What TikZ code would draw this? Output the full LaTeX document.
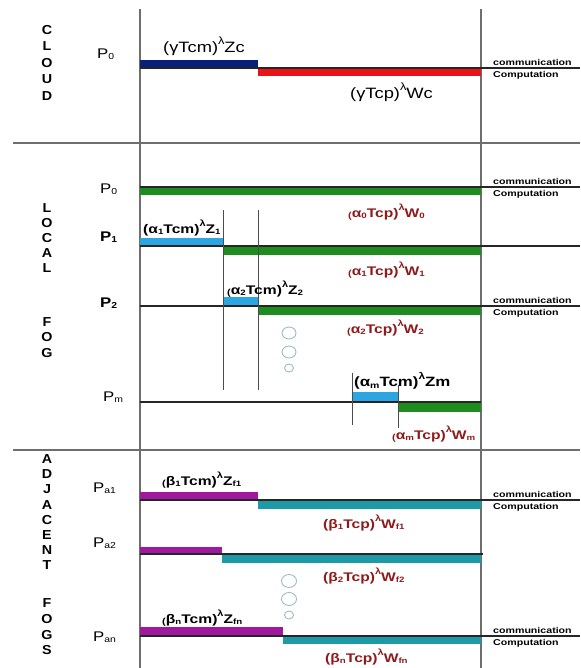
\documentclass[tikz,border=0pt]{standalone}
\usepackage{fontspec}
\setmainfont{Liberation Sans}
\definecolor{cmblue}{HTML}{0A1F7A}
\definecolor{cpred}{HTML}{E8141A}
\definecolor{fgreen}{HTML}{1E8C1E}
\definecolor{fcyan}{HTML}{2BA6E0}
\definecolor{amag}{HTML}{A0189E}
\definecolor{ateal}{HTML}{1D9AA6}
\definecolor{lblred}{HTML}{8E1B1B}
\definecolor{dotc}{HTML}{9BBDBD}
\definecolor{rulegray}{HTML}{6E6E6E}
% horizontally widened text, small sub/superscripts
\newcommand\wide[2][1.25]{\scalebox{#1}[1]{#2}}
\newcommand\subx[1]{\raisebox{-0.1em}{\scalebox{0.62}{#1}}}
\newcommand\supx[1]{\raisebox{0.55em}{\scalebox{0.7}{#1}}}
\newcommand\sparen{\raisebox{-0.1em}{\scalebox{0.7}{(}}}
\tikzset{
  frame/.style={draw=rulegray, line width=1.2pt},
  baseln/.style={draw=black!85, line width=1.1pt},
  tick/.style={draw=black!70, line width=1pt},
  dotring/.style={draw=dotc, line width=0.9pt},
  sec/.style={inner sep=0pt, font=\bfseries\fontsize{13}{13}\selectfont},
  plab/.style={inner sep=0pt, anchor=west, font=\fontsize{14}{14}\selectfont},
  glab/.style={inner sep=0pt, anchor=west, font=\fontsize{15}{15}\selectfont},
  cmlab/.style={inner sep=0pt, anchor=west, font=\bfseries\fontsize{12.5}{13}\selectfont},
  cplab/.style={inner sep=0pt, anchor=west, text=lblred, font=\bfseries\fontsize{12.5}{13}\selectfont},
  tag/.style={inner sep=0pt, anchor=west, font=\bfseries\fontsize{8.5}{9}\selectfont},
}
\begin{document}
\begin{tikzpicture}[x=1pt,y=-1pt]
\useasboundingbox (0,0) rectangle (580,668);

% ---------- frame ----------
\draw[frame] (140,9) -- (140,668);
\draw[frame] (481,9) -- (481,668);
\draw[frame] (13,143) -- (580,143);
\draw[frame] (13,450) -- (580,450);

% ---------- section titles ----------
\foreach \ch [count=\i] in {C,L,O,U,D}
  \node[sec] (cloud\i) at (47,{30+16.5*(\i-1)}) {\wide[1.1]{\ch}};
\foreach \ch [count=\i] in {L,O,C,A,L}
  \node[sec] (local\i) at (47,{208+15*(\i-1)}) {\wide[1.1]{\ch}};
\foreach \ch [count=\i] in {F,O,G}
  \node[sec] (fog\i) at (47,{322+15.5*(\i-1)}) {\wide[1.1]{\ch}};
\foreach \ch [count=\i] in {A,D,J,A,C,E,N,T}
  \node[sec] (adj\i) at (47,{459+15.2*(\i-1)}) {\wide[1.1]{\ch}};
\foreach \ch [count=\i] in {F,O,G,S}
  \node[sec] (fogs\i) at (47,{603+15.8*(\i-1)}) {\wide[1.1]{\ch}};

% ---------- cloud ----------
\fill[cmblue] (140,60) rectangle (258,68);
\fill[cpred] (258,68) rectangle (481,76);
\draw[baseln] (140,68) -- (580,68);
\node[plab] (pc0) at (97,54) {\wide[1.2]{P\subx{0}}};
\node[glab] (zc) at (163,46) {\wide[1.22]{(γTcm)\supx{λ}Zc}};
\node[glab] (wc) at (350,92) {\wide[1.22]{(γTcp)\supx{λ}Wc}};

% ---------- local fog ----------
\fill[fgreen] (140,187) rectangle (481,195);
\draw[baseln] (140,187) -- (580,187);
\fill[fcyan] (140,238) rectangle (223,246);
\fill[fgreen] (223,246) rectangle (481,255);
\draw[baseln] (140,246) -- (580,246);
\fill[fcyan] (223,297) rectangle (258,306);
\fill[fgreen] (258,306) rectangle (481,315);
\draw[baseln] (140,306) -- (580,306);
\fill[fcyan] (352,392) rectangle (398,402);
\fill[fgreen] (398,402) rectangle (481,412);
\draw[baseln] (140,402) -- (481,402);

\draw[tick] (223,210) -- (223,390);
\draw[tick] (258,210) -- (258,390);
\draw[tick] (352,373) -- (352,425);
\draw[tick] (398,385) -- (398,428);

\draw[dotring] (289,333) ellipse [x radius=7, y radius=6];
\draw[dotring] (289,352) ellipse [x radius=7, y radius=6];
\draw[dotring] (289,368) ellipse [x radius=4.5, y radius=4];

\node[plab] (pl0) at (100,189) {\wide[1.2]{P\subx{0}}};
\node[plab, font=\bfseries\fontsize{14}{14}\selectfont] (pl1) at (100,237) {\wide[1.2]{P\subx{1}}};
\node[plab, font=\bfseries\fontsize{14}{14}\selectfont] (pl2) at (100,303) {\wide[1.2]{P\subx{2}}};
\node[plab] (plm) at (103,397) {\wide[1.2]{P\subx{m}}};

\node[cplab] (w0) at (348,212) {\wide{\sparen α\subx{0}Tcp)\supx{λ}W\subx{0}}};
\node[cmlab] (z1) at (143,228) {\wide{(α\subx{1}Tcm)\supx{λ}Z\subx{1}}};
\node[cplab] (w1) at (348,270) {\wide{\sparen α\subx{1}Tcp)\supx{λ}W\subx{1}}};
\node[cmlab] (z2) at (227,289) {\wide{\sparen α\subx{2}Tcm)\supx{λ}Z\subx{2}}};
\node[cplab] (w2) at (347,328) {\wide{\sparen α\subx{2}Tcp)\supx{λ}W\subx{2}}};
\node[cmlab, font=\bfseries\fontsize{13.5}{14}\selectfont] (zm) at (354,381) {\wide{(α\subx{m}Tcm)\supx{λ}Zm}};
\node[cplab] (wm) at (392,434) {\wide{\sparen α\subx{m}Tcp)\supx{λ}W\subx{m}}};

% ---------- adjacent fogs ----------
\fill[amag] (140,492) rectangle (258,500);
\fill[ateal] (258,500) rectangle (481,509);
\draw[baseln] (140,500) -- (580,500);
\fill[amag] (140,547) rectangle (222,554);
\fill[ateal] (222,554) rectangle (481,563);
\draw[baseln] (140,554) -- (483,554);
\fill[amag] (140,627) rectangle (283,636);
\fill[ateal] (283,636) rectangle (481,644);
\draw[baseln] (140,636) -- (580,636);

\draw[dotring] (289,581) ellipse [x radius=7.5, y radius=6.5];
\draw[dotring] (289,599) ellipse [x radius=7.5, y radius=6.5];
\draw[dotring] (289,615) ellipse [x radius=4.5, y radius=4];

\node[plab] (pa1) at (93,488) {\wide[1.2]{P\subx{a1}}};
\node[plab] (pa2) at (93,543) {\wide[1.2]{P\subx{a2}}};
\node[plab] (pan) at (93,637) {\wide[1.2]{P\subx{an}}};

\node[cmlab] (zf1) at (162,480) {\wide{\sparen β\subx{1}Tcm)\supx{λ}Z\subx{f1}}};
\node[cplab] (wf1) at (323,523) {\wide{(β\subx{1}Tcp)\supx{λ}W\subx{f1}}};
\node[cplab] (wf2) at (323,576) {\wide{(β\subx{2}Tcp)\supx{λ}W\subx{f2}}};
\node[cmlab] (zfn) at (162,618) {\wide{\sparen β\subx{n}Tcm)\supx{λ}Z\subx{fn}}};
\node[cplab] (wfn) at (325,657) {\wide{(β\subx{n}Tcp)\supx{λ}W\subx{fn}}};

% ---------- communication / computation tags ----------
\foreach \y [count=\k] in {68,187,306,500,636} {
  \node[tag] (comm\k) at (493,\y-6) {\wide{communication}};
  \node[tag] (comp\k) at (493,\y+7.5) {\wide{Computation}};
}
\end{tikzpicture}
\end{document}
